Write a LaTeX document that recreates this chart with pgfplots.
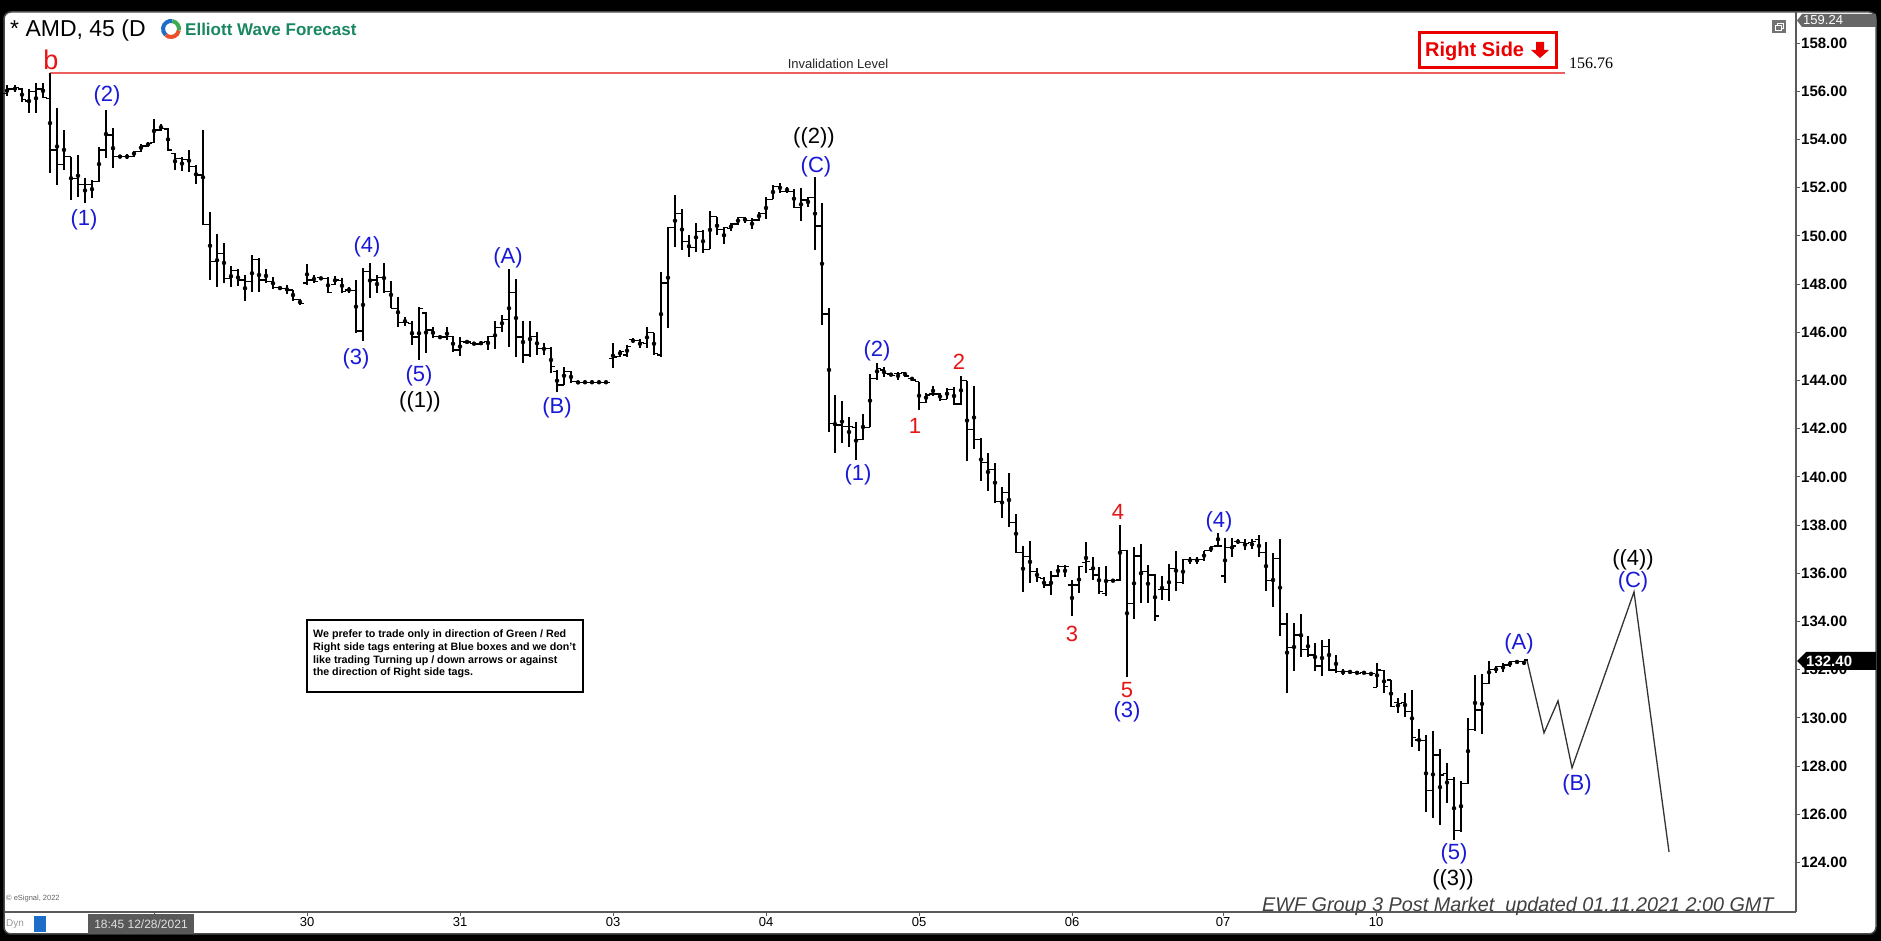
\documentclass[border=0pt]{standalone}
\usepackage{fontspec}
\setmainfont{Liberation Sans}
\newfontfamily\serifnum{Liberation Serif}
\usepackage{pgfplots}
\usepackage{pgfplotstable}
\pgfplotsset{compat=1.18}
\usetikzlibrary{backgrounds}

\definecolor{ewfblue}{RGB}{25,25,215}
\definecolor{ewfred}{RGB}{230,20,20}
\definecolor{rsred}{RGB}{235,0,0}
\definecolor{invred}{RGB}{235,95,95}
\definecolor{ewfgreen}{RGB}{25,135,95}
\definecolor{axisgray}{RGB}{90,90,90}
\definecolor{logoblue}{RGB}{30,110,200}
\definecolor{logored}{RGB}{235,80,40}
\definecolor{logogreen}{RGB}{60,170,80}

\newcommand{\fs}[1]{\fontsize{#1}{#1}\selectfont}

% open tick to the left, close tick to the right
\pgfdeclareplotmark{otick}{\pgfpathmoveto{\pgfqpoint{-4.2pt}{0pt}}\pgfpathlineto{\pgfqpoint{0pt}{0pt}}\pgfusepathqstroke}
\pgfdeclareplotmark{ctick}{\pgfpathmoveto{\pgfqpoint{0pt}{0pt}}\pgfpathlineto{\pgfqpoint{4.2pt}{0pt}}\pgfusepathqstroke}

% 45 min bars, x = position on the time axis
\pgfplotstableread{
x o h l c
7 155.92 156.25 155.80 156.10
15 156.10 156.27 155.95 156.15
22 156.10 156.15 155.57 155.65
29 155.60 156.10 155.09 156.00
36 156.00 156.33 155.09 156.10
43 156.10 156.33 155.71 155.75
50 155.70 156.76 152.60 153.57
57 153.57 155.30 152.12 152.95
64 152.95 154.40 152.74 153.29
71 153.29 153.29 151.49 152.39
78 152.39 153.36 151.63 152.12
85 152.12 152.39 151.38 152.12
92 152.12 152.32 151.56 152.25
99 152.25 153.71 152.25 153.57
106 153.57 155.23 153.22 154.19
113 154.19 154.47 152.81 153.29
120 153.29 153.36 153.22 153.29
127 153.29 153.40 153.18 153.29
134 153.29 153.54 153.29 153.50
141 153.50 153.82 153.50 153.73
148 153.73 153.91 153.68 153.84
154 153.87 154.84 153.87 154.40
161 154.40 154.65 154.37 154.47
168 154.43 154.47 153.54 153.57
175 153.43 153.46 152.74 153.22
182 153.22 153.29 152.71 153.18
189 153.18 153.57 152.67 152.88
196 152.88 152.95 152.16 152.53
203 152.53 154.40 150.46 150.46
210 150.46 151.01 148.17 148.94
217 148.94 150.08 147.90 149.28
224 149.28 149.70 148.06 148.24
231 148.24 148.76 147.90 148.56
238 148.56 148.62 147.93 148.17
245 148.17 148.38 147.28 148.11
252 148.11 149.21 147.69 149.03
259 149.03 149.07 147.69 148.17
266 148.17 148.62 148.06 148.11
273 148.11 148.28 147.79 147.87
280 147.87 147.90 147.77 147.81
287 147.81 147.97 147.59 147.75
293 147.75 147.77 147.32 147.37
300 147.37 147.37 147.14 147.21
307 148.04 148.84 147.97 148.17
314 148.17 148.38 148.04 148.11
321 148.28 148.31 148.17 148.23
328 148.24 148.28 147.62 147.65
335 147.97 148.34 147.97 148.17
342 148.15 148.24 147.62 147.69
349 147.76 147.90 147.62 147.73
356 147.73 148.17 145.96 146.06
363 146.06 148.66 145.62 148.52
370 148.52 148.89 147.41 148.17
377 148.17 148.38 147.62 148.28
384 148.28 148.89 147.62 147.69
391 147.69 148.11 147.00 147.00
398 147.00 147.46 146.21 146.40
405 146.40 146.65 146.27 146.40
412 146.38 146.45 145.48 145.80
419 145.80 147.07 144.85 147.00
426 146.80 146.85 145.13 146.10
433 146.10 146.21 145.75 145.82
440 145.82 145.85 145.75 145.80
447 145.80 146.21 145.68 145.82
453 145.82 145.85 145.20 145.27
460 145.27 145.80 145.02 145.62
467 145.60 145.63 145.57 145.60
474 145.55 145.57 145.49 145.52
481 145.52 145.62 145.48 145.59
488 145.62 145.85 145.27 145.82
495 145.82 146.45 145.30 146.21
502 146.21 146.72 146.03 146.54
509 146.54 148.62 145.38 147.65
516 147.65 148.20 144.99 145.80
523 145.80 146.45 144.74 145.06
530 145.06 146.45 144.99 145.82
537 145.82 146.03 145.06 145.34
544 145.34 145.57 145.06 145.34
551 145.34 145.41 144.30 144.58
557 144.37 144.44 143.54 143.82
564 143.82 144.58 143.82 144.37
571 144.37 144.41 143.89 143.96
578 143.96 143.96 143.89 143.91
585 143.93 143.95 143.91 143.93
592 143.93 143.95 143.91 143.93
599 143.93 143.95 143.91 143.93
606 143.93 143.95 143.91 143.93
613 144.92 145.55 144.51 144.97
620 144.99 145.27 144.99 145.20
627 145.06 145.48 144.99 145.41
633 145.71 145.75 145.55 145.66
640 145.66 145.71 145.34 145.57
647 145.55 146.24 145.34 145.99
654 145.99 145.99 145.06 145.13
661 145.06 148.52 144.99 148.04
668 148.04 150.36 146.17 150.36
675 150.36 151.70 149.56 150.94
682 150.94 151.11 149.42 149.76
689 149.76 150.04 149.11 149.53
696 149.53 150.53 149.35 150.18
703 150.18 150.25 149.31 149.45
710 149.45 151.05 149.45 150.80
717 150.80 150.80 150.04 150.28
724 150.28 150.39 149.67 150.36
731 150.32 150.55 150.22 150.50
738 150.50 150.80 150.46 150.77
745 150.77 150.80 150.55 150.64
752 150.64 150.73 150.28 150.66
759 150.66 151.01 150.64 150.94
766 150.94 151.63 150.69 151.52
773 151.52 152.12 151.52 152.05
780 152.05 152.19 151.80 151.84
787 151.84 152.02 151.80 151.84
794 151.84 151.94 151.15 151.19
801 151.19 151.98 150.64 151.49
808 151.49 151.63 151.19 151.59
815 151.59 152.43 149.42 150.41
822 150.41 151.38 146.31 146.76
829 146.76 147.00 141.88 142.23
835 142.23 143.40 140.98 142.16
842 142.16 143.17 141.42 142.09
849 142.09 142.50 141.23 142.09
856 142.06 142.30 140.71 141.56
863 141.56 142.61 141.54 142.06
870 142.06 144.27 142.06 144.09
877 144.09 144.74 144.02 144.51
884 144.44 144.55 144.16 144.30
891 144.27 144.30 144.19 144.22
898 144.30 144.37 144.02 144.30
905 144.34 144.37 144.16 144.19
912 144.09 144.14 144.00 144.02
919 143.96 143.96 142.78 143.08
926 143.08 143.50 143.08 143.40
933 143.44 143.78 143.36 143.44
940 143.44 143.50 143.17 143.22
947 143.22 143.68 143.22 143.64
954 143.64 143.75 142.97 143.03
961 143.03 144.19 142.99 144.00
967 144.00 144.00 140.68 141.98
974 141.98 143.78 141.15 141.56
981 141.56 141.60 139.85 140.59
988 140.59 140.98 139.43 140.32
995 140.32 140.59 138.93 138.98
1002 138.98 139.60 138.28 139.35
1009 139.35 140.15 137.94 138.11
1016 138.11 138.46 136.83 136.86
1023 136.86 137.14 135.24 136.69
1030 136.69 137.36 135.59 136.07
1037 136.07 136.21 135.66 135.84
1044 135.80 135.84 135.38 135.52
1051 135.52 136.11 135.10 135.89
1058 135.89 136.35 135.86 136.28
1065 136.28 136.35 135.86 136.28
1072 135.52 135.73 134.23 135.52
1079 135.52 136.31 135.17 136.28
1086 136.45 137.28 136.00 136.49
1093 136.17 136.69 135.73 135.93
1099 135.93 136.28 135.15 135.24
1106 135.17 136.31 135.06 135.70
1113 135.70 135.73 135.66 135.70
1120 135.73 138.01 135.70 136.94
1127 136.94 136.97 131.72 134.76
1134 134.76 137.08 134.09 136.72
1141 136.72 137.22 134.79 136.07
1148 136.07 136.35 134.79 135.93
1155 135.93 135.98 134.04 134.23
1162 135.34 135.89 134.90 135.34
1169 135.34 136.39 134.87 136.21
1176 136.21 136.94 135.28 135.62
1183 135.62 136.58 135.56 136.58
1190 136.58 136.69 136.39 136.56
1197 136.56 136.69 136.39 136.56
1204 136.56 136.94 136.53 136.94
1211 136.94 137.14 136.90 137.11
1218 137.14 137.69 137.14 137.14
1225 135.89 137.46 135.62 137.08
1232 137.08 137.46 136.69 137.14
1238 137.32 137.41 137.22 137.28
1245 137.28 137.41 136.97 137.25
1252 137.28 137.41 137.00 137.32
1259 137.39 137.59 136.69 136.86
1266 136.86 137.32 135.28 135.70
1273 135.70 136.86 134.59 136.63
1280 136.63 137.41 133.40 133.90
1287 133.90 134.37 131.05 132.92
1294 132.92 133.93 131.96 133.44
1301 133.44 134.32 132.55 132.85
1308 132.85 133.40 132.55 132.61
1315 132.61 133.10 131.96 132.16
1322 132.16 133.24 131.74 132.96
1329 132.96 133.26 131.96 131.99
1336 131.99 132.61 131.88 131.92
1343 131.92 132.02 131.78 131.92
1350 131.92 131.99 131.83 131.88
1357 131.88 131.92 131.83 131.85
1364 131.88 131.92 131.83 131.85
1371 131.85 131.92 131.74 131.85
1377 131.27 132.27 131.27 131.99
1384 131.96 131.99 131.05 131.30
1391 131.58 131.58 130.44 130.47
1398 130.64 130.82 130.22 130.61
1405 130.64 131.05 130.03 130.26
1412 130.26 131.16 128.81 129.20
1419 129.09 129.53 128.64 129.06
1426 129.06 129.29 126.11 126.98
1433 126.98 129.47 125.84 128.46
1440 128.46 128.70 125.56 127.63
1447 127.70 128.15 126.49 127.46
1454 127.46 127.57 124.94 125.32
1461 125.32 127.40 125.28 127.29
1468 127.29 129.99 127.26 129.53
1475 129.53 131.78 129.47 130.33
1482 130.33 131.83 129.34 131.44
1489 131.44 132.38 131.41 132.02
1496 132.02 132.16 131.88 132.13
1503 132.13 132.27 131.92 132.20
1510 132.20 132.38 132.13 132.34
1517 132.34 132.38 132.27 132.34
1524 132.34 132.38 132.20 132.40
}\bars

\begin{document}
\begin{tikzpicture}[x=1pt,y=1pt]
\begin{axis}[
  at={(5pt,29pt)}, anchor=south west, scale only axis,
  width=1791pt, height=900pt,
  xmin=5, xmax=1796, ymin=121.95, ymax=159.29,
  axis x line=bottom, axis y line=right,
  axis line style={-, draw=axisgray, line width=1.3pt},
  tick align=outside, major tick length=4pt,
  tick style={draw=axisgray, line width=1pt},
  ytick={124,126,...,158},
  yticklabel={\pgfmathprintnumber[fixed,fixed zerofill,precision=2]{\tick}},
  yticklabel style={font=\fs{15}\bfseries, text=black, anchor=west, inner sep=0pt, xshift=1pt},
  xtick={154,307,460,613,766,919,1072,1223,1376},
  xticklabels={,30,31,03,04,05,06,07,10},
  xticklabel style={font=\fs{13}, text=black, anchor=north, inner sep=0pt, yshift=-1pt},
  /pgf/number format/assume math mode=true,
]
% invalidation level
\addplot[invred, line width=1.5pt] coordinates {(50,156.76) (1565,156.76)};
% high-low ranges
\addplot[only marks, mark=none, error bars/.cd, y dir=both, y explicit,
  error mark=none, error bar style={draw=black, line width=1.4pt}]
  table[x=x, y expr=(\thisrow{h}+\thisrow{l})/2, y error expr=(\thisrow{h}-\thisrow{l})/2] {\bars};
\addplot[only marks, mark=otick, mark options={draw=black, line width=1.3pt}] table[x=x, y=o] {\bars};
\addplot[only marks, mark=ctick, mark options={draw=black, line width=1.3pt}] table[x=x, y=c] {\bars};
% projected path
\addplot[black!80, line width=1.3pt] coordinates {(1527,132.40) (1544,129.38) (1558,130.71) (1572,127.93) (1634,135.23) (1669,124.44)};
\end{axis}

\begin{scope}[on background layer]
\fill[black] (0,0) rectangle (1881,941);
\fill[white, draw=black!70, line width=1.5pt, rounded corners=7pt] (4,7) rectangle (1876,929);
\end{scope}

% wave labels
\begin{scope}[every node/.style={font=\fs{22}, inner sep=0pt}]
\node[text=ewfred, font=\fs{27}] at (51,881) {b};
\node[text=ewfblue] at (107,845) {(2)};
\node[text=ewfblue] at (84,721) {(1)};
\node[text=ewfblue] at (367,694) {(4)};
\node[text=ewfblue] at (356,582) {(3)};
\node[text=ewfblue] at (419,565) {(5)};
\node[text=black] at (420,539) {((1))};
\node[text=ewfblue] at (508,683) {(A)};
\node[text=ewfblue] at (557,533) {(B)};
\node[text=black] at (814,803) {((2))};
\node[text=ewfblue] at (816,774) {(C)};
\node[text=ewfblue] at (877,590) {(2)};
\node[text=ewfred] at (959,579) {2};
\node[text=ewfred] at (915,515) {1};
\node[text=ewfblue] at (858,466) {(1)};
\node[text=ewfred] at (1118,429) {4};
\node[text=ewfblue] at (1219,419) {(4)};
\node[text=ewfred] at (1072,307) {3};
\node[text=ewfred] at (1127,251) {5};
\node[text=ewfblue] at (1127,229) {(3)};
\node[text=ewfblue] at (1519,297) {(A)};
\node[text=black] at (1633,381) {((4))};
\node[text=ewfblue] at (1633,359) {(C)};
\node[text=ewfblue] at (1577,156) {(B)};
\node[text=ewfblue] at (1454,87) {(5)};
\node[text=black] at (1453,61) {((3))};
\end{scope}

% title and logo
\node[anchor=base west, font=\fs{23}, inner sep=0pt] at (10,904) {* AMD, 45 (D};
\fill[white] (171,912) circle (13);
\draw[logoblue, line width=4pt] (171,912) ++(80:8) arc (80:230:8);
\draw[logored, line width=4pt] (171,912) ++(230:8) arc (230:350:8);
\draw[logogreen, line width=4pt] (171,912) ++(350:8) arc (350:440:8);
\node[anchor=base west, font=\fs{17}\bfseries, text=ewfgreen, inner sep=0pt] at (185,905) {Elliott Wave Forecast};

% invalidation level texts
\node[font=\fs{13}, text=black!85] at (838,877) {Invalidation Level};
\node[anchor=west, font=\serifnum\fs{16}, inner sep=0pt] at (1569,878) {156.76};

% right side tag
\draw[rsred, line width=3pt, fill=white] (1419,873) rectangle (1556,908);
\node[anchor=base west, font=\fs{20}\bfseries, text=rsred, inner sep=0pt] at (1425,884) {Right Side};
\fill[rsred] (1536,899) -- (1544,899) -- (1544,891) -- (1549,891) -- (1540,883) -- (1531,891) -- (1536,891) -- cycle;

% note box
\draw[black, line width=2.5pt, fill=white] (307,249) rectangle (583,321);
\node[anchor=north west, align=left, inner sep=0pt, font=\fontsize{10.7}{12.6}\selectfont\bfseries] at (313,311)
  {We prefer to trade only in direction of Green / Red\\
   Right side tags entering at Blue boxes and we don't\\
   like trading Turning up / down arrows or against\\
   the direction of Right side tags.};

% footer texts
\node[anchor=west, font=\fs{19.8}\itshape, text=black!75, inner sep=0pt] at (1262,35) {EWF Group 3 Post Market\ \ updated 01.11.2021 2:00 GMT};
\node[anchor=west, font=\fs{7.5}, text=black!60, inner sep=0pt] at (6,42) {\textcopyright{} eSignal, 2022};
\node[anchor=west, font=\fs{10}, text=black!40, inner sep=0pt] at (6,17) {Dyn};
\fill[logoblue] (34,9) rectangle (46,25);
\fill[black!65] (88,7) rectangle (194,27);
\node[font=\fs{12}, text=black!12, inner sep=0pt] at (141,17) {18:45 12/28/2021};

% price tags on the right axis
\fill[black!60] (1797,920.5) -- (1802,927) -- (1876,927) -- (1876,914) -- (1802,914) -- cycle;
\node[anchor=west, font=\fs{13}, text=white, inner sep=0pt] at (1803,920.5) {159.24};
\fill[black] (1797,280) -- (1806,289) -- (1876,289) -- (1876,271) -- (1806,271) -- cycle;
\node[anchor=west, font=\fs{15}\bfseries, text=white, inner sep=0pt] at (1806,280) {132.40};
\fill[black!55] (1772,908) rectangle (1786,921);
\draw[white, line width=0.8pt] (1775,911) rectangle (1781,916) (1777,916) -- (1777,918) -- (1783,918) -- (1783,913) -- (1781,913);

\pgfresetboundingbox
\path[use as bounding box] (0,0) rectangle (1881,941);
\end{tikzpicture}
\end{document}
